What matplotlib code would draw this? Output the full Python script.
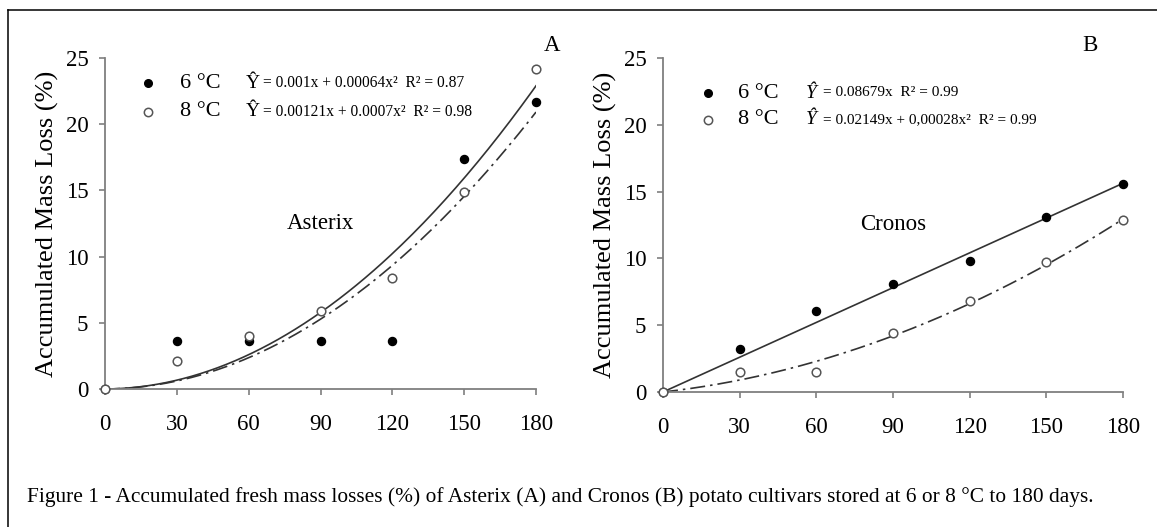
import numpy as np
import matplotlib.pyplot as plt
from matplotlib.lines import Line2D

plt.rcParams['font.family'] = ['Liberation Serif', 'DejaVu Serif']
plt.rcParams['mathtext.fontset'] = 'stix'

# Data
days = [0, 30, 60, 90, 120, 150, 180]
asterix_6 = [0, 3.6, 3.6, 3.6, 3.6, 17.4, 21.7]
asterix_8 = [0, 2.1, 4.0, 5.9, 8.4, 14.9, 24.2]
cronos_6 = [0, 3.2, 6.1, 8.1, 9.8, 13.1, 15.6]
cronos_8 = [0, 1.5, 1.5, 4.4, 6.8, 9.7, 12.9]

# Regression coefficients (a*x + b*x^2)
asterix_6_coef = [0.001, 0.00064]
asterix_8_coef = [0.00121, 0.0007]
cronos_6_coef = [0.08679, 0.0]
cronos_8_coef = [0.02149, 0.00028]

eq_a6 = "= 0.001x + 0.00064x²  R² = 0.87"
eq_a8 = "= 0.00121x + 0.0007x²  R² = 0.98"
eq_b6 = "= 0.08679x  R² = 0.99"
eq_b8 = "= 0.02149x + 0,00028x²  R² = 0.99"

W, H = 1157, 527
fig = plt.figure(figsize=(W / 100, H / 100), dpi=100)

def px(x, y):
    return x / W, 1 - y / H

def fit(coef, x):
    return coef[0] * x + coef[1] * x ** 2

axis_col = '#7f7f7f'
line_col = '#333333'
dashdot = (0, (9, 3, 1.5, 3))

def setup(ax):
    ax.set_xlim(0, 180)
    ax.set_ylim(0, 25)
    ax.set_xticks(days)
    ax.set_yticks([0, 5, 10, 15, 20, 25])
    for s in ['top', 'right']:
        ax.spines[s].set_visible(False)
    for s in ['left', 'bottom']:
        ax.spines[s].set_color(axis_col)
        ax.spines[s].set_linewidth(1.3)
    ax.tick_params(axis='both', colors=axis_col, labelcolor='black',
                   labelsize=16.5, length=4, width=1.2, direction='out')
    ax.tick_params(axis='x', pad=14)
    ax.tick_params(axis='y', pad=8)
    ax.set_ylabel('Accumulated Mass Loss (%)', fontsize=19, labelpad=5)
    ax.patch.set_alpha(0)

xs = np.linspace(0, 180, 200)

# Panel A
axA = fig.add_axes([105 / W, 1 - 389 / H, 431 / W, 331 / H])
setup(axA)
axA.plot(xs, fit(asterix_8_coef, xs), color=line_col, lw=1.2)
axA.plot(xs, fit(asterix_6_coef, xs), color=line_col, lw=1.2, linestyle=dashdot)
axA.plot(days, asterix_6, 'o', color='black', ms=5.8, clip_on=False, zorder=5)
axA.plot(days, asterix_8, 'o', mfc='white', mec='#555555', mew=1.1, ms=6.2, clip_on=False, zorder=5)
axA.text(90, 12.5, 'Asterix', fontsize=16.5, ha='center', va='center')

# Panel B
axB = fig.add_axes([663 / W, 1 - 392 / H, 460 / W, 334 / H])
setup(axB)
axB.plot(xs, fit(cronos_6_coef, xs), color=line_col, lw=1.2)
axB.plot(xs, fit(cronos_8_coef, xs), color=line_col, lw=1.2, linestyle=dashdot)
axB.plot(days, cronos_6, 'o', color='black', ms=5.8, clip_on=False, zorder=5)
axB.plot(days, cronos_8, 'o', mfc='white', mec='#555555', mew=1.1, ms=6.2, clip_on=False, zorder=5)
axB.text(90, 12.5, 'Cronos', fontsize=16.5, ha='center', va='center')

# Legend-like annotations (figure coordinates)
def legend_row(xm, y, filled, label, xl, xy, eq, italic, eqsize):
    if filled:
        fig.add_artist(Line2D([xm / W], [1 - y / H], marker='o', color='black', ms=5.5, ls=''))
    else:
        fig.add_artist(Line2D([xm / W], [1 - y / H], marker='o', mfc='white', mec='#555555',
                              mew=1.1, ms=6, ls=''))
    fig.text(*px(xl, y), label, fontsize=16, va='center', ha='left')
    fig.text(*px(xy, y), 'Ŷ', fontsize=14, va='center', ha='left',
             style='italic' if italic else 'normal')
    fig.text(*px(xy + 17, y), eq, fontsize=eqsize, va='center', ha='left')

legend_row(148, 83, True, '6 °C', 180, 246, eq_a6, False, 11.2)
legend_row(148, 112, False, '8 °C', 180, 246, eq_a8, False, 11.2)
legend_row(708, 93, True, '6 °C', 738, 806, eq_b6, True, 11)
legend_row(708, 120, False, '8 °C', 738, 806, eq_b8, True, 11)

fig.text(*px(552, 45), 'A', fontsize=16.5, ha='center', va='center')
fig.text(*px(1090, 45), 'B', fontsize=16.5, ha='center', va='center')

fig.text(*px(27, 497), 'Figure 1 - Accumulated fresh mass losses (%) of Asterix (A) and Cronos (B) '
         'potato cultivars stored at 6 or 8 °C to 180 days.', fontsize=15.4, ha='left', va='center')

# Outer frame
fig.add_artist(Line2D([8 / W, 1.0], [1 - 10 / H, 1 - 10 / H], color='black', lw=1.1))
fig.add_artist(Line2D([8 / W, 8 / W], [1 - 10 / H, 0], color='black', lw=1.1))

fig.savefig('out.png', dpi=100)
